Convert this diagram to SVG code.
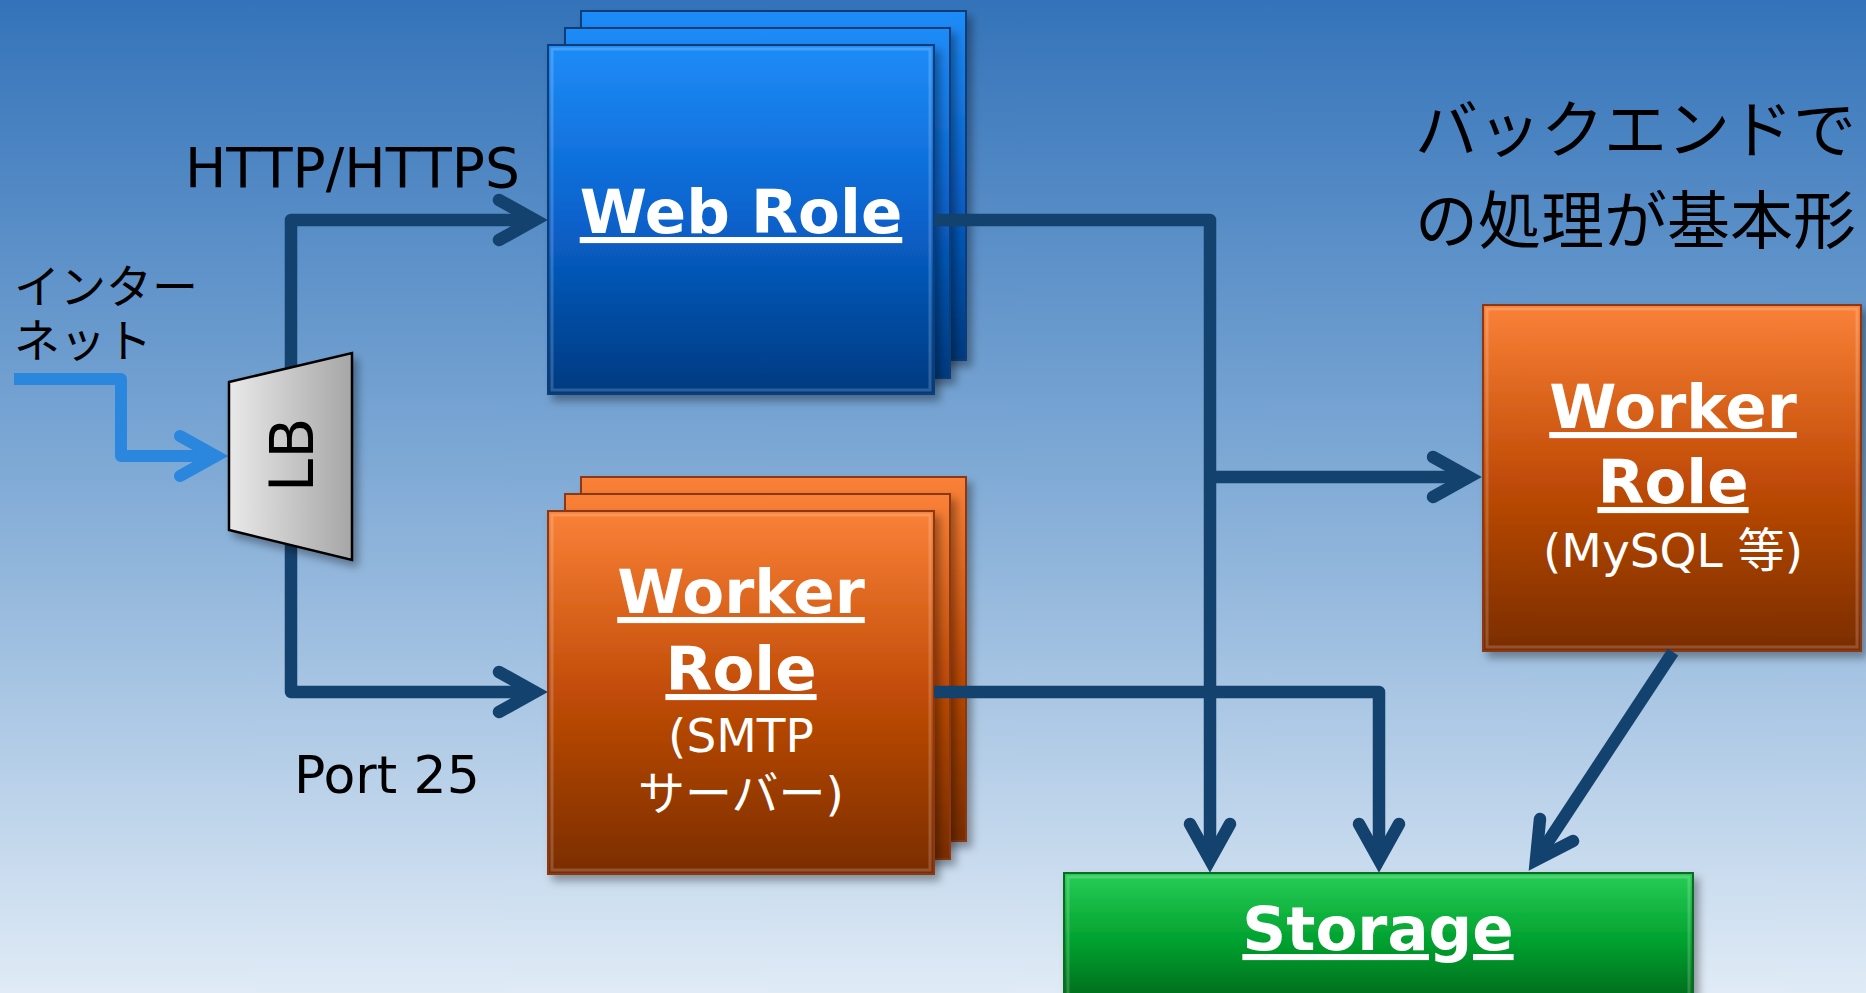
<svg xmlns="http://www.w3.org/2000/svg" width="1866" height="993" viewBox="0 0 1866 993">
<defs>
<linearGradient id="bg" x1="0" y1="0" x2="0" y2="1">
<stop offset="0" stop-color="#3473b9"/>
<stop offset="0.45" stop-color="#7ba7d4"/>
<stop offset="1" stop-color="#e0ebf6"/>
</linearGradient>
<linearGradient id="gBlue" x1="0" y1="0" x2="0" y2="1">
<stop offset="0" stop-color="#1f8cf8"/>
<stop offset="0.5" stop-color="#0862cc"/>
<stop offset="1" stop-color="#013a80"/>
</linearGradient>
<linearGradient id="gOrange" x1="0" y1="0" x2="0" y2="1">
<stop offset="0" stop-color="#fa8138"/>
<stop offset="0.5" stop-color="#c14c07"/>
<stop offset="1" stop-color="#7a2d00"/>
</linearGradient>
<linearGradient id="gGreen" x1="0" y1="0" x2="0" y2="1">
<stop offset="0" stop-color="#28cd56"/>
<stop offset="0.5" stop-color="#00a02e"/>
<stop offset="1" stop-color="#005e18"/>
</linearGradient>
<linearGradient id="gLB" x1="0" y1="0" x2="1" y2="0">
<stop offset="0" stop-color="#e9e9e9"/>
<stop offset="1" stop-color="#a6a6a6"/>
</linearGradient>
<filter id="sh" x="-10%" y="-10%" width="130%" height="130%">
<feDropShadow dx="5" dy="6" stdDeviation="4" flood-color="#000" flood-opacity="0.35"/>
</filter>
</defs>
<style>
.blue{fill:url(#gBlue);stroke:#0c3c78;stroke-width:2}
.orange{fill:url(#gOrange);stroke:#8a3912;stroke-width:2}
.green{fill:url(#gGreen);stroke:#0a6a22;stroke-width:2}
.bevel{fill:none;stroke:#ffffff;stroke-opacity:0.18;stroke-width:3}
.t{font-family:"DejaVu Sans","Noto Sans CJK JP",sans-serif}
.jp{font-family:"Noto Sans CJK JP",sans-serif}
.title{font-weight:bold;font-size:61px;fill:#fff;text-anchor:middle;text-decoration:underline}
.sub{font-size:47px;fill:#fff;text-anchor:middle}
.lbl{fill:#000}
.conn{fill:none;stroke:#14426e;stroke-width:12.5;stroke-linejoin:round}
.head{fill:none;stroke:#14426e;stroke-width:12.5;stroke-linejoin:miter;stroke-linecap:round}
.inet{fill:none;stroke:#2b87dd;stroke-width:12;stroke-linejoin:round}
.ihead{fill:none;stroke:#2b87dd;stroke-width:12;stroke-linejoin:miter;stroke-linecap:round}
</style>
<rect x="0" y="0" width="1866" height="993" fill="url(#bg)"/>

<g id="web-role">
<rect class="blue" x="581" y="11" width="385" height="349" filter="url(#sh)"/>
<rect class="blue" x="565" y="28" width="385" height="350" filter="url(#sh)"/>
<rect class="blue" x="548" y="45" width="386" height="349" filter="url(#sh)"/>
<rect class="bevel" x="552" y="49" width="378" height="341"/>
<text class="t title" x="741" y="233">Web Role</text>
</g>

<g id="worker-smtp">
<rect class="orange" x="581" y="477" width="385" height="364" filter="url(#sh)"/>
<rect class="orange" x="565" y="494" width="385" height="365" filter="url(#sh)"/>
<rect class="orange" x="548" y="511" width="386" height="363" filter="url(#sh)"/>
<rect class="bevel" x="552" y="515" width="378" height="355"/>
<text class="t title" x="741" y="613">Worker</text>
<text class="t title" x="741" y="690">Role</text>
<text class="t sub" x="741" y="752">(SMTP</text>
<text class="t sub" x="741" y="810">サーバー)</text>
</g>

<g id="worker-mysql">
<rect class="orange" x="1483" y="305" width="378" height="346" filter="url(#sh)"/>
<rect class="bevel" x="1487" y="309" width="370" height="338"/>
<text class="t title" x="1673" y="428">Worker</text>
<text class="t title" x="1673" y="503">Role</text>
<text class="t sub" x="1673" y="567">(MySQL 等)</text>
</g>

<g id="storage">
<rect class="green" x="1064" y="873" width="629" height="140" filter="url(#sh)"/>
<rect class="bevel" x="1068" y="877" width="621" height="132"/>
<text class="t title" x="1378" y="950" font-size="60">Storage</text>
</g>

<g id="connectors">
<path class="inet" d="M14 379 L121 379 L121 456 L216 456"/>
<polyline class="ihead" points="180,436 216,456 180,476"/>
<path class="conn" d="M291 375 L291 220 L535 220"/>
<polyline class="head" points="499,200 535,220 499,240"/>
<path class="conn" d="M291 540 L291 692 L535 692"/>
<polyline class="head" points="499,672 535,692 499,712"/>
<path class="conn" d="M934 220 L1210 220 L1210 860"/>
<polyline class="head" points="1190,824 1210,860 1230,824"/>
<path class="conn" d="M1210 477 L1469 477"/>
<polyline class="head" points="1433,457 1469,477 1433,497"/>
<path class="conn" d="M934 692 L1379 692 L1379 860"/>
<polyline class="head" points="1359,824 1379,860 1399,824"/>
<path class="conn" d="M1673 652 L1536 860"/>
<polyline class="head" points="1540,819 1536,860 1573,841"/>
</g>

<g id="lb">
<polygon points="229,382 352,353 352,560 229,530" fill="url(#gLB)" stroke="#000" stroke-width="2.5" filter="url(#sh)"/>
<text class="t lbl" transform="translate(313,455) rotate(-90)" font-size="60" text-anchor="middle">LB</text>
</g>

<g id="labels">
<text class="t lbl" x="185" y="187" font-size="55">HTTP/HTTPS</text>
<text class="t lbl" x="294" y="793" font-size="52">Port 25</text>
<text class="jp lbl" font-size="46"><tspan x="14" y="303">インター</tspan><tspan x="14" y="357">ネット</tspan></text>
<text class="jp lbl" font-size="63"><tspan x="1415" y="152">バックエンドで</tspan><tspan x="1415" y="243">の処理が基本形</tspan></text>
</g>
</svg>
